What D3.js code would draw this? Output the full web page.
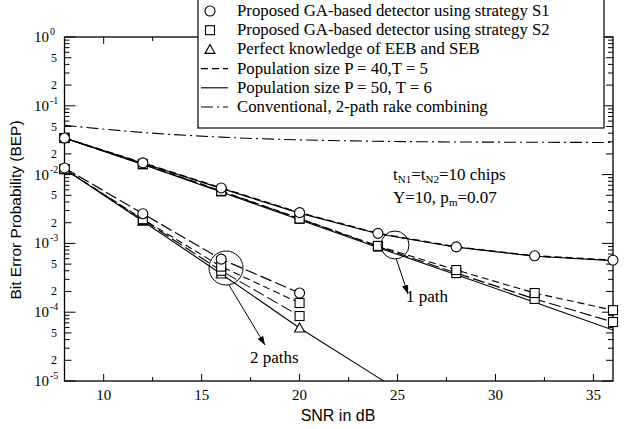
<!DOCTYPE html>
<html><head><meta charset="utf-8">
<script src="https://cdn.jsdelivr.net/npm/d3@7"></script>
<style>body{margin:0;background:#fff}svg{display:block}</style>
</head><body><svg id="c" width="624" height="429"></svg>
<script>
const snr = [8,12,16,20,24,28,32,36];
const snr2 = [8,12,16,20];
const snrPerfect2 = [8,12,16,20,24,28];
const conventional = [0.052,0.041,0.035,0.032,0.0305,0.0298,0.0295,0.0293];
const onePathS1P40 = [0.034,0.0148,0.0064,0.0028,0.0014,0.00089,0.00066,0.00057];
const onePathS1P50 = [0.034,0.0146,0.0063,0.00275,0.00138,0.00088,0.00065,0.00056];
const onePathS2P40 = [0.034,0.0143,0.0058,0.0023,0.00092,0.00041,0.00019,0.000107];
const onePathS2P50 = [0.034,0.0141,0.0057,0.00228,0.00090,0.00037,0.000156,0.000072];
const onePathPerfect = [0.034,0.014,0.0056,0.0022,0.00087,0.00035,0.00014,0.000055];
const twoPathS1 = [0.0125,0.0027,0.00059,0.00019];
const twoPathS2P40 = [0.012,0.00225,0.00046,0.000136];
const twoPathS2P50 = [0.012,0.0022,0.00040,0.000088];
const twoPathPerfect = [0.012,0.0021,0.00036,0.000059,0.0000113,0.0000022];
const xTicks = [10,15,20,25,30,35];
const yDecades = [0,-1,-2,-3,-4,-5];
const legendLabels = ["Proposed GA-based detector using strategy S1","Proposed GA-based detector using strategy S2","Perfect knowledge of EEB and SEB","Population size P = 40,T = 5","Population size P = 50, T = 6","Conventional, 2-path rake combining"];

const svg = d3.select("#c");
const L=64.5, R=613, T=37, B=381;
const x = d3.scaleLinear().domain([8,36]).range([L,R]);
const y = d3.scaleLog().domain([1e-5,1]).range([B,T]);
const serif = "'Liberation Serif','Times New Roman',serif";
const sans = "'Liberation Sans',Arial,sans-serif";

svg.append("defs").append("clipPath").attr("id","clip").append("rect")
  .attr("x",L).attr("y",T).attr("width",R-L).attr("height",B-T);
svg.select("defs").append("marker").attr("id","arr").attr("viewBox","0 0 10 10")
  .attr("refX",10).attr("refY",5).attr("markerWidth",9).attr("markerHeight",9)
  .attr("markerUnits","userSpaceOnUse").attr("orient","auto")
  .append("path").attr("d","M0,1.5L10,5L0,8.5Z").attr("fill","#000");

const minorY = [];
for (let e=-5;e<0;e++) for (let m=2;m<=9;m++) minorY.push(m*Math.pow(10,e));
const minorX = [12.5,17.5,22.5,27.5,32.5];
const g = svg.append("g");
const mant = v => Math.round(v/Math.pow(10,Math.floor(Math.log10(v)+1e-9)));
function lenY(v){const m=mant(v);return (m===2||m===5)?7:5;}
minorY.forEach(v=>{
  const yy=y(v), l=lenY(v);
  g.append("line").attr("x1",L).attr("x2",L+l).attr("y1",yy).attr("y2",yy).attr("stroke","#000");
  g.append("line").attr("x1",R).attr("x2",R-l).attr("y1",yy).attr("y2",yy).attr("stroke","#000");
});
yDecades.forEach(e=>{
  const yy=y(Math.pow(10,e));
  g.append("line").attr("x1",L).attr("x2",L+11).attr("y1",yy).attr("y2",yy).attr("stroke","#000");
  g.append("line").attr("x1",R).attr("x2",R-11).attr("y1",yy).attr("y2",yy).attr("stroke","#000");
  g.append("text").attr("x",49).attr("y",yy+5).attr("text-anchor","end")
    .attr("font-family",serif).attr("font-size",15).text("10");
  g.append("text").attr("x",50).attr("y",yy-2).attr("font-family",serif).attr("font-size",10).text(String(e));
});
minorY.forEach(v=>{
  const m=mant(v);
  if(m===2||m===5) g.append("text").attr("x",57).attr("y",y(v)+4).attr("text-anchor","end")
    .attr("font-family",serif).attr("font-size",12).text(m);
});
xTicks.forEach(v=>{
  g.append("line").attr("x1",x(v)).attr("x2",x(v)).attr("y1",B).attr("y2",B-7).attr("stroke","#000");
  g.append("line").attr("x1",x(v)).attr("x2",x(v)).attr("y1",T).attr("y2",T+7).attr("stroke","#000");
  g.append("text").attr("x",x(v)).attr("y",B+19).attr("text-anchor","middle")
    .attr("font-family",serif).attr("font-size",15).text(v);
});
minorX.forEach(v=>{
  g.append("line").attr("x1",x(v)).attr("x2",x(v)).attr("y1",B).attr("y2",B-4).attr("stroke","#000");
  g.append("line").attr("x1",x(v)).attr("x2",x(v)).attr("y1",T).attr("y2",T+4).attr("stroke","#000");
});
g.append("rect").attr("x",L).attr("y",T).attr("width",R-L).attr("height",B-T)
  .attr("fill","none").attr("stroke","#000").attr("stroke-width",1.3);

svg.append("text").attr("x",338).attr("y",421).attr("text-anchor","middle")
  .attr("font-family",sans).attr("font-size",16).text("SNR in dB");
svg.append("text").attr("transform","translate(21,210) rotate(-90)").attr("text-anchor","middle")
  .attr("font-family",sans).attr("font-size",15.5).text("Bit Error Probability (BEP)");

const plot = svg.append("g").attr("clip-path","url(#clip)");
const line = d3.line().x(d=>x(d[0])).y(d=>y(d[1]));
function draw(xs, vals, dash, w){
  plot.append("path").datum(xs.map((s,i)=>[s,vals[i]])).attr("d",line)
    .attr("fill","none").attr("stroke","#000").attr("stroke-width",w||1.1)
    .attr("stroke-dasharray",dash||null);
}
const DASH="7,4", LDASH="12,4";
plot.append("path").datum(snr.map((s,i)=>[s,conventional[i]])).attr("d",line.curve(d3.curveMonotoneX))
  .attr("fill","none").attr("stroke","#000").attr("stroke-width",1.1).attr("stroke-dasharray","12,4,2,4");
line.curve(d3.curveLinear);
draw(snr, onePathPerfect, null);
draw(snr, onePathS2P50, LDASH);
draw(snr, onePathS2P40, DASH);
draw(snr, onePathS1P50, null, 1.2);
draw(snr, onePathS1P40, DASH, 1.4);
draw(snrPerfect2, twoPathPerfect, null);
draw(snr2, twoPathS2P50, LDASH);
draw(snr2, twoPathS2P40, DASH);
draw(snr2, twoPathS1, LDASH, 1.2);

const mk = svg.append("g");
function tri(xs, vals){ xs.forEach((s,i)=>{ if(vals[i]<1e-5) return; const cx=x(s), cy=y(vals[i]);
  mk.append("path").attr("d",`M${cx},${cy-5}L${cx+5},${cy+4}L${cx-5},${cy+4}Z`).attr("fill","#fff").attr("stroke","#000").attr("stroke-width",1.1);});}
function sq(xs, vals){ xs.forEach((s,i)=>{ mk.append("rect").attr("x",x(s)-4.5).attr("y",y(vals[i])-4.5)
  .attr("width",9).attr("height",9).attr("fill","#fff").attr("stroke","#000").attr("stroke-width",1.1);});}
function ci(xs, vals){ xs.forEach((s,i)=>{ mk.append("circle").attr("cx",x(s)).attr("cy",y(vals[i]))
  .attr("r",5).attr("fill","#fff").attr("stroke","#000").attr("stroke-width",1.1);});}
tri(snr2, twoPathPerfect);
sq(snr2, twoPathS2P50); sq(snr2, twoPathS2P40); ci(snr2, twoPathS1);
sq(snr, onePathS2P50); sq(snr, onePathS2P40); ci(snr, onePathS1P40);

const an = svg.append("g");
an.append("circle").attr("cx",226).attr("cy",268).attr("r",17).attr("fill","none").attr("stroke","#000");
an.append("circle").attr("cx",395).attr("cy",245).attr("r",14).attr("fill","none").attr("stroke","#000");
an.append("line").attr("x1",229).attr("y1",285).attr("x2",265).attr("y2",345).attr("stroke","#000").attr("marker-end","url(#arr)");
an.append("line").attr("x1",396).attr("y1",258).attr("x2",408).attr("y2",294).attr("stroke","#000").attr("marker-end","url(#arr)");
an.append("text").attr("x",250).attr("y",363).attr("font-family",serif).attr("font-size",17).text("2 paths");
an.append("text").attr("x",406).attr("y",302).attr("font-family",serif).attr("font-size",17).text("1 path");
const t1 = an.append("text").attr("x",393).attr("y",180).attr("font-family",serif).attr("font-size",17);
t1.append("tspan").text("t");
t1.append("tspan").attr("font-size",11).attr("dy",3).text("N1");
t1.append("tspan").attr("dy",-3).text("=t");
t1.append("tspan").attr("font-size",11).attr("dy",3).text("N2");
t1.append("tspan").attr("dy",-3).text("=10 chips");
const t2 = an.append("text").attr("x",393).attr("y",203).attr("font-family",serif).attr("font-size",17);
t2.append("tspan").text("Y=10, p");
t2.append("tspan").attr("font-size",11).attr("dy",3).text("m");
t2.append("tspan").attr("dy",-3).text("=0.07");

const lg = svg.append("g");
lg.append("rect").attr("x",198).attr("y",-1).attr("width",406).attr("height",129)
  .attr("fill","#fff").attr("stroke","#000").attr("stroke-width",1.2);
const rowY = i => 11 + i*19.2;
legendLabels.forEach((lab,i)=>{
  lg.append("text").attr("x",237).attr("y",rowY(i)+5).attr("font-family",serif).attr("font-size",16.8).text(lab);
});
const lx=210;
lg.append("circle").attr("cx",lx).attr("cy",rowY(0)).attr("r",5).attr("fill","#fff").attr("stroke","#000").attr("stroke-width",1.1);
lg.append("rect").attr("x",lx-4.5).attr("y",rowY(1)-4.5).attr("width",9).attr("height",9).attr("fill","#fff").attr("stroke","#000").attr("stroke-width",1.1);
lg.append("path").attr("d",`M${lx},${rowY(2)-5}L${lx+5},${rowY(2)+4}L${lx-5},${rowY(2)+4}Z`).attr("fill","#fff").attr("stroke","#000").attr("stroke-width",1.1);
[[DASH,3],[null,4],["12,4,2,4",5]].forEach(([d,i])=>{
  lg.append("line").attr("x1",201).attr("x2",228).attr("y1",rowY(i)).attr("y2",rowY(i))
    .attr("stroke","#000").attr("stroke-width",1.1).attr("stroke-dasharray",d);
});
</script></body></html>
